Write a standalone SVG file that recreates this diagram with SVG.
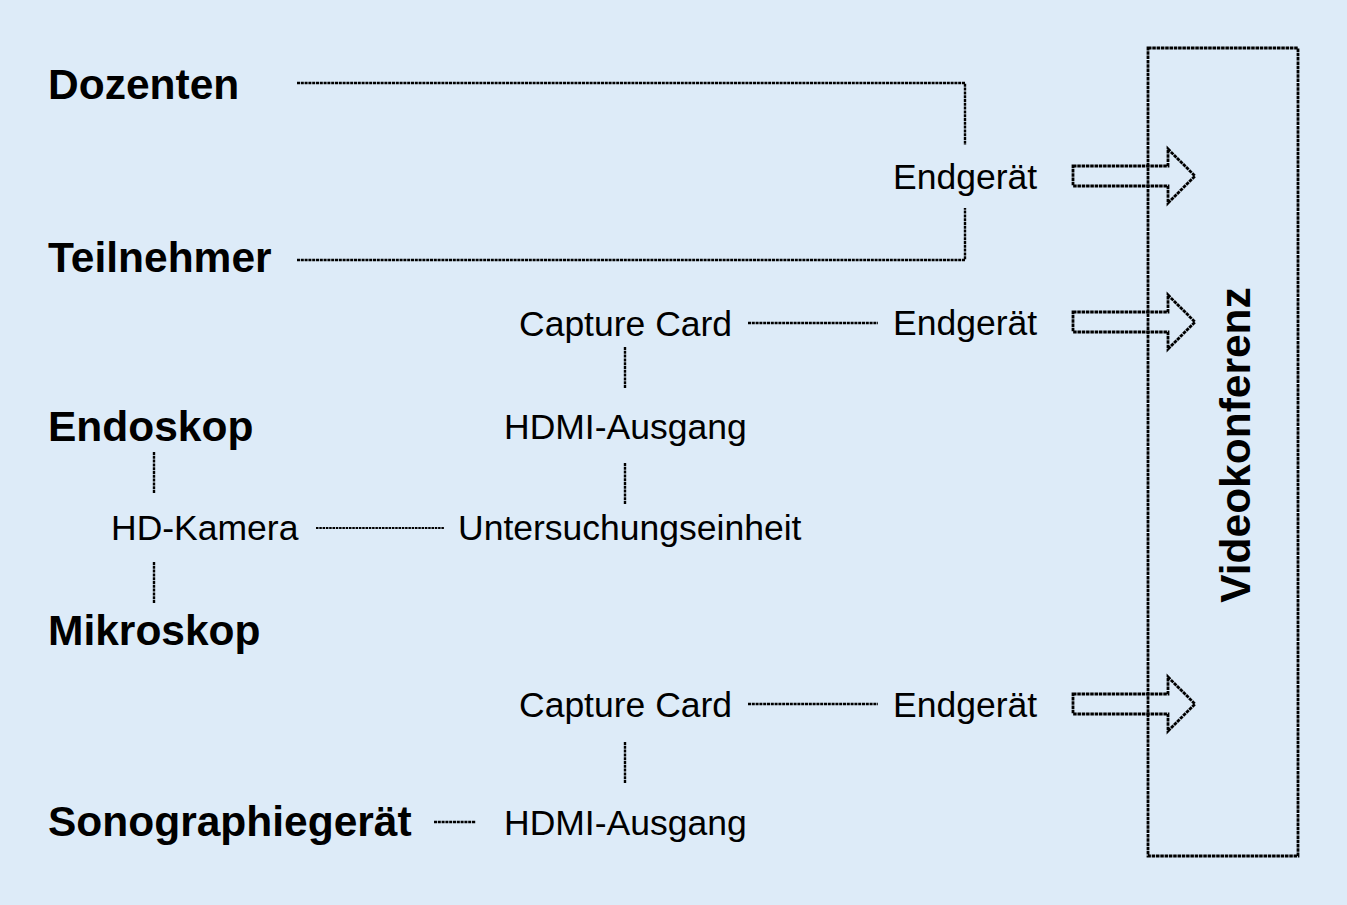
<svg xmlns="http://www.w3.org/2000/svg" width="1347" height="905" viewBox="0 0 1347 905">
<style>
.b{font-family:"Liberation Sans",Arial,sans-serif;font-weight:bold;font-size:42.5px;fill:#000}
.r{font-family:"Liberation Sans",Arial,sans-serif;font-size:35.5px;fill:#000}
.c{fill:none;stroke:#000;stroke-width:2.4;stroke-dasharray:3 0.8}
.t{fill:none;stroke:#000;stroke-width:2;stroke-dasharray:2.5 0.8}
.a{fill:none;stroke:#000;stroke-width:2.8;stroke-dasharray:3.5 0.8;stroke-linejoin:miter}
</style>
<defs>
<path id="arr" d="M1073,-10 H1168 V-27 L1195,0 L1168,27 V10 H1073 Z"/>
</defs>
<rect width="1347" height="905" fill="#ddebf8"/>
<g id="videokonferenz">
<rect x="1148" y="48" width="150" height="808" class="a"/>
<text class="b" transform="translate(1250,445) rotate(-90)" text-anchor="middle">Videokonferenz</text>
</g>
<g id="dozenten"><text class="b" x="48" y="99">Dozenten</text></g>
<g id="teilnehmer"><text class="b" x="48" y="272">Teilnehmer</text></g>
<g id="endoskop"><text class="b" x="48" y="441">Endoskop</text></g>
<g id="mikroskop"><text class="b" x="48" y="645">Mikroskop</text></g>
<g id="sonographiegeraet"><text class="b" x="48" y="836">Sonographiegerät</text></g>
<g id="endgeraet1"><text class="r" x="893" y="189">Endgerät</text></g>
<g id="endgeraet2"><text class="r" x="893" y="335">Endgerät</text></g>
<g id="endgeraet3"><text class="r" x="893" y="717">Endgerät</text></g>
<g id="capture1"><text class="r" x="519" y="336">Capture Card</text></g>
<g id="capture2"><text class="r" x="519" y="717">Capture Card</text></g>
<g id="hdmi1"><text class="r" x="504" y="439">HDMI-Ausgang</text></g>
<g id="hdmi2"><text class="r" x="504" y="835">HDMI-Ausgang</text></g>
<g id="hdkamera"><text class="r" x="111" y="540">HD-Kamera</text></g>
<g id="untersuchung"><text class="r" x="458" y="540">Untersuchungseinheit</text></g>
<g id="connectors">
<path class="c" d="M297,83 H965 V145"/>
<path class="c" d="M297,260 H965 V208"/>
<path class="c" d="M748,323 H878"/>
<path class="c" d="M625,347 V388"/>
<path class="c" d="M625,463 V504"/>
<path class="c" d="M154,452 V493"/>
<path class="c" d="M154,562 V603"/>
<path class="t" d="M316,528 H444"/>
<path class="c" d="M748,704 H878"/>
<path class="c" d="M625,742 V783"/>
<path class="c" d="M434,822 H476"/>
<use href="#arr" class="a" transform="translate(0,176)"/>
<use href="#arr" class="a" transform="translate(0,322)"/>
<use href="#arr" class="a" transform="translate(0,704)"/>
</g>
</svg>
